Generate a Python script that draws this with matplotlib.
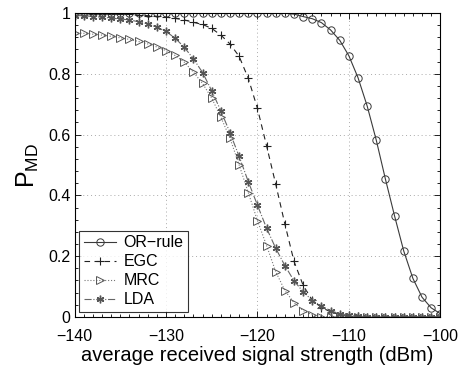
import matplotlib
matplotlib.use("Agg")
import matplotlib.pyplot as plt
from matplotlib.ticker import MultipleLocator

plt.rcParams['font.family'] = ['Liberation Sans', 'DejaVu Sans']
plt.rcParams['mathtext.fontset'] = 'custom'
plt.rcParams['mathtext.rm'] = 'Liberation Sans'

# received signal strength (dBm), 1 dB steps
x_dbm = list(range(-140, -99))

p_or = [1.0] * 23 + [0.999, 0.996, 0.988, 0.981, 0.968, 0.944, 0.910, 0.859,
                     0.787, 0.694, 0.581, 0.453, 0.332, 0.217, 0.127, 0.065,
                     0.030, 0.011]
p_egc = [0.999, 0.999, 0.998, 0.998, 0.997, 0.996, 0.995, 0.993, 0.991, 0.989,
         0.986, 0.982, 0.977, 0.969, 0.962, 0.949, 0.927, 0.898, 0.857, 0.785,
         0.686, 0.563, 0.437, 0.306, 0.183, 0.104, 0.055, 0.031, 0.017, 0.008,
         0.004, 0.002] + [0.0] * 9
p_mrc = [0.935, 0.933, 0.930, 0.927, 0.923, 0.918, 0.913, 0.906, 0.898, 0.888,
         0.876, 0.860, 0.838, 0.805, 0.768, 0.720, 0.657, 0.588, 0.500, 0.409,
         0.317, 0.235, 0.149, 0.087, 0.047, 0.021, 0.007, 0.001] + [0.0] * 13
p_lda = [0.991, 0.991, 0.988, 0.986, 0.983, 0.980, 0.977, 0.971, 0.964, 0.953,
         0.939, 0.917, 0.887, 0.849, 0.804, 0.744, 0.678, 0.606, 0.528, 0.445,
         0.368, 0.292, 0.226, 0.169, 0.119, 0.083, 0.054, 0.036, 0.021, 0.010,
         0.005, 0.002] + [0.0] * 9

fig = plt.figure(figsize=(4.63, 3.69), dpi=100)
ax = fig.add_axes([0.161, 0.141, 0.79, 0.824])

ax.plot(x_dbm, p_or, '-', color='#3a3a3a', lw=0.8, marker='o', ms=5.3,
        mfc='none', mec='#3a3a3a', mew=0.7, label='OR\u2212rule')
ax.plot(x_dbm, p_egc, '--', color='#222222', lw=0.8, marker='+', ms=5.5,
        mew=0.8, label='EGC', dashes=(5, 4))
ax.plot(x_dbm, p_mrc, ':', color='#777777', lw=0.8, marker='>', ms=5.3,
        mfc='none', mec='#555555', mew=0.7, label='MRC')
ax.plot(x_dbm, p_lda, '-.', color='#666666', lw=0.8, marker=(6, 2, 0), ms=5.5,
        mfc='#555555', mec='#555555', mew=1.0, label='LDA')

ax.set_xlim(-140, -100)
ax.set_ylim(0, 1)
ax.set_xticks([-140, -130, -120, -110, -100])
ax.set_xticklabels(['\u2212140', '\u2212130', '\u2212120', '\u2212110', '\u2212100'])
ax.set_yticks([0, 0.2, 0.4, 0.6, 0.8, 1])
ax.set_yticklabels(['0', '0.2', '0.4', '0.6', '0.8', '1'])
ax.xaxis.set_minor_locator(MultipleLocator(1))
ax.yaxis.set_minor_locator(MultipleLocator(0.04))
ax.tick_params(which='both', direction='in', top=True, right=True, labelsize=11.5)
ax.tick_params(axis='x', pad=9)
ax.tick_params(axis='y', pad=3)
ax.tick_params(which='major', length=4, width=0.6)
ax.tick_params(which='minor', length=2.5, width=0.6)
ax.grid(True, which='major', linestyle=(0, (1, 3)), color='#aaaaaa', lw=0.7)
for s in ax.spines.values():
    s.set_linewidth(0.8)

ax.set_xlabel('average received signal strength (dBm)', fontsize=14.5, labelpad=1)
ax.set_ylabel(r'$\mathregular{P_{MD}}$', fontsize=18, labelpad=5)

leg = ax.legend(loc='lower left', bbox_to_anchor=(0.012, 0.016), borderaxespad=0,
                fontsize=11.5, frameon=True, fancybox=False, handlelength=2.0,
                handletextpad=0.5, labelspacing=0.25, borderpad=0.3)
leg.get_frame().set_edgecolor('black')
leg.get_frame().set_linewidth(0.8)

fig.savefig('out.png', dpi=100)
